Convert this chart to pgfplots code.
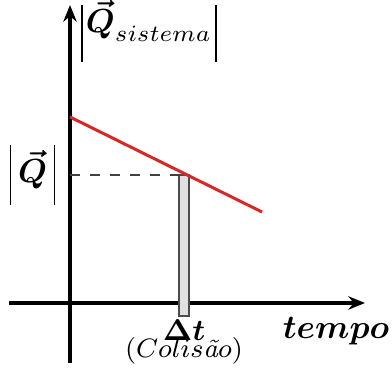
\documentclass[border=0pt]{standalone}
\usepackage{amsmath}
\usepackage{pgfplots}
\pgfplotsset{compat=1.18}
\usetikzlibrary{arrows.meta}
\definecolor{myred}{RGB}{215,40,40}
\begin{document}
\begin{tikzpicture}
\begin{axis}[
  x=0.3pt, y=0.3pt,
  xmin=-61, xmax=295, ymin=-60, ymax=298,
  axis lines=middle,
  axis line style={line width=1pt, -{Stealth[length=5pt,width=4pt]}},
  xtick=\empty, ytick=\empty,
  clip=false,
]
\addplot[draw=none] coordinates {(-70,-70) (322,303)};
\addplot[fill=black!12, draw=black!70, line width=0.5pt] coordinates {(109,-13) (119,-13) (119,128) (109,128)} -- cycle;
\addplot[dashed, black!75, line width=0.5pt] coordinates {(0,128) (114,128)};
\addplot[myred, line width=0.9pt] coordinates {(0,186) (192,91)};
\node[inner sep=0pt, anchor=base] at (axis cs:79,270) {\rule[-8.7pt]{0.45pt}{17.1pt}\hspace{1pt}$\boldsymbol{\vec{Q}}_{sistema}$\hspace{1pt}\rule[-8.7pt]{0.45pt}{17.1pt}};
\node[inner sep=0pt, anchor=base] at (axis cs:-37.5,120) {\rule[-6.6pt]{0.45pt}{18pt}\hspace{2pt}$\boldsymbol{\vec{Q}}$\hspace{2pt}\rule[-6.6pt]{0.45pt}{18pt}};
\node[inner sep=0pt] at (axis cs:114,-27) {\small$\boldsymbol{\Delta t}$};
\node[inner sep=0pt] at (axis cs:114,-48) {\footnotesize$(Colis\text{\it ã}o)$};
\node[inner sep=0pt] at (axis cs:266,-28) {$\boldsymbol{tempo}$};
\end{axis}
\end{tikzpicture}
\end{document}
